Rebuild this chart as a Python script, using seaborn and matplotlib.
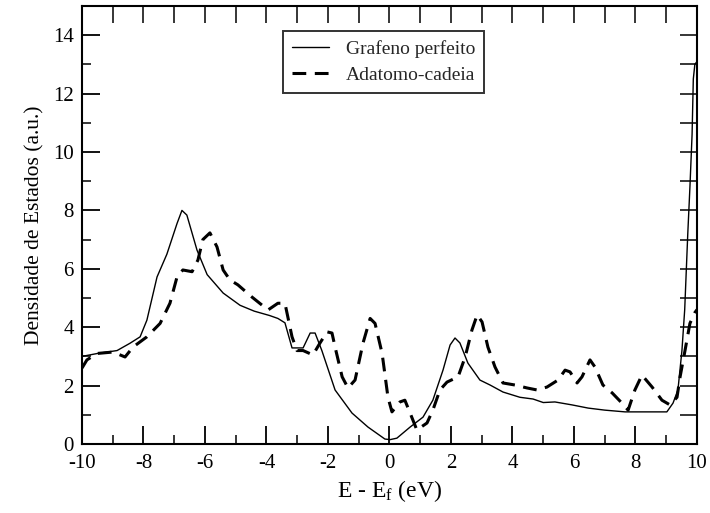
import matplotlib
matplotlib.use("Agg")
import matplotlib.pyplot as plt
import seaborn as sns
import pandas as pd
from matplotlib.ticker import MultipleLocator

# --- data ---
x_perfeito = [-10.0, -9.5, -8.86, -8.44, -8.11, -7.89, -7.56, -7.24, -6.91, -6.75, -6.59,
              -6.26, -5.93, -5.41, -4.86, -4.4, -3.9, -3.63, -3.4, -3.17, -2.81, -2.58, -2.42,
              -2.2, -1.77, -1.22, -0.70, -0.15, 0.02, 0.24, 0.67, 1.09, 1.41, 1.74, 1.97,
              2.13, 2.29, 2.55, 2.94, 3.27, 3.69, 4.24, 4.67, 5.0, 5.38, 5.93, 6.46, 7.0,
              7.66, 8.31, 9.02, 9.22, 9.38, 9.51, 9.6, 9.7, 9.77, 9.84, 9.88, 9.93, 10.0]
y_perfeito = [3.0, 3.1, 3.2, 3.45, 3.67, 4.24, 5.72, 6.5, 7.55, 8.0, 7.84,
              6.64, 5.8, 5.17, 4.75, 4.55, 4.4, 4.3, 4.15, 3.29, 3.29, 3.8, 3.8,
              3.2, 1.85, 1.06, 0.58, 0.17, 0.15, 0.2, 0.58, 0.92, 1.5, 2.53, 3.39,
              3.63, 3.46, 2.77, 2.19, 2.02, 1.78, 1.6, 1.54, 1.42, 1.44, 1.34, 1.23, 1.16,
              1.1, 1.1, 1.1, 1.4, 1.85, 3.2, 4.6, 7.2, 8.8, 10.6, 12.5, 13.0, 13.1]

x_adatomo = [-10.0, -9.84, -9.51, -8.99, -8.6, -8.34, -7.89, -7.46, -7.14, -6.91, -6.72,
             -6.42, -6.23, -6.07, -5.84, -5.61, -5.41, -5.19, -4.93, -4.47, -3.95, -3.63,
             -3.4, -3.17, -3.01, -2.81, -2.49, -2.26, -2.03, -1.87, -1.77, -1.54, -1.35,
             -1.12, -0.86, -0.63, -0.47, -0.24, -0.05, 0.08, 0.34, 0.5, 0.67, 0.89, 1.22,
             1.41, 1.64, 1.87, 2.23, 2.46, 2.68, 2.85, 3.01, 3.2, 3.43, 3.69, 4.08, 4.47,
             4.8, 5.12, 5.48, 5.71, 5.87, 6.1, 6.26, 6.52, 6.68, 6.94, 7.24, 7.56, 7.76,
             7.98, 8.21, 8.54, 8.86, 9.12, 9.35, 9.45, 9.61, 9.77, 9.93, 10.0]
y_adatomo = [2.6, 2.88, 3.1, 3.15, 2.98, 3.32, 3.67, 4.13, 4.82, 5.72, 5.96,
             5.9, 6.3, 7.0, 7.23, 6.75, 5.96, 5.62, 5.45, 5.03, 4.59, 4.82,
             4.82, 3.67, 3.2, 3.2, 3.05, 3.46, 3.84, 3.8, 3.32, 2.3, 1.92,
             2.19, 3.46, 4.3, 4.13, 3.1, 1.6, 1.1, 1.44, 1.5, 1.06, 0.48, 0.72,
             1.16, 1.85, 2.12, 2.3, 2.98, 3.9, 4.42, 4.18, 3.32, 2.64, 2.09, 2.02, 1.92,
             1.85, 1.95, 2.19, 2.53, 2.47, 2.09, 2.3, 2.88, 2.64, 2.02, 1.75, 1.4, 1.16,
             1.85, 2.36, 1.95, 1.5, 1.34, 1.6, 2.3, 3.2, 4.13, 4.5, 4.6]

label_perfeito = "Grafeno perfeito"
label_adatomo = "Adatomo-cadeia"

sns.set_theme(style="white")
plt.rcParams['font.family'] = ['Liberation Serif', 'DejaVu Serif']
plt.rcParams['mathtext.fontset'] = 'custom'
plt.rcParams['mathtext.rm'] = 'Liberation Serif'
plt.rcParams['mathtext.it'] = 'Liberation Serif:italic'
plt.rcParams['axes.unicode_minus'] = False

fig = plt.figure(figsize=(7.1, 5.13), dpi=100)
ax = fig.add_axes([82/710, 1-444/513, (697-82)/710, (444-6)/513])

df1 = pd.DataFrame({"E": x_perfeito, "DOS": y_perfeito})
df2 = pd.DataFrame({"E": x_adatomo, "DOS": y_adatomo})
sns.lineplot(data=df1, x="E", y="DOS", ax=ax, color="black", linewidth=1.0,
             label=label_perfeito, sort=False)
sns.lineplot(data=df2, x="E", y="DOS", ax=ax, color="black", linewidth=2.2,
             label=label_adatomo, sort=False, linestyle=(0, (4.5, 2.8)))

ax.set_xlim(-10, 10)
ax.set_ylim(0, 15)
ax.xaxis.set_major_locator(MultipleLocator(2))
ax.xaxis.set_minor_locator(MultipleLocator(1))
ax.yaxis.set_minor_locator(MultipleLocator(1))
ax.set_yticks([0, 2, 4, 6, 8, 10, 12, 14])

ax.tick_params(axis='both', which='major', direction='in', length=13, width=1.3,
               labelsize=15, colors='black')
ax.tick_params(axis='both', which='minor', direction='in', length=6.5, width=1.3)
ax.tick_params(axis='x', which='major', pad=7)
ax.tick_params(axis='y', which='major', pad=6)
ax.tick_params(bottom=True, left=True, top=False, right=False, which='both')

# top and right: uniform ticks every unit
secx = ax.secondary_xaxis('top')
secx.set_xticks(range(-10, 11))
secx.tick_params(direction='in', length=12, width=1.3, labeltop=False)
secx.spines['top'].set_visible(False)
secy = ax.secondary_yaxis('right')
secy.set_yticks(range(0, 16))
secy.tick_params(direction='in', length=12, width=1.3, labelright=False)
secy.spines['right'].set_visible(False)

for s in ax.spines.values():
    s.set_color('black')
    s.set_linewidth(1.5)
    s.set_visible(True)

ax.set_xlabel(r"E - E$\mathregular{_f}$ (eV)", fontsize=17, color='black', labelpad=4)
ax.set_ylabel("Densidade de Estados (a.u.)", fontsize=15.5, color='black', labelpad=6)

leg = ax.legend(loc='upper left', bbox_to_anchor=(0.327, 0.943), borderaxespad=0,
                fontsize=14, frameon=True, fancybox=False, handlelength=1.9,
                handletextpad=0.9, borderpad=0.45, labelspacing=0.45)
leg.get_frame().set_edgecolor('black')
leg.get_frame().set_linewidth(1.4)

fig.savefig("out.png", dpi=100)
